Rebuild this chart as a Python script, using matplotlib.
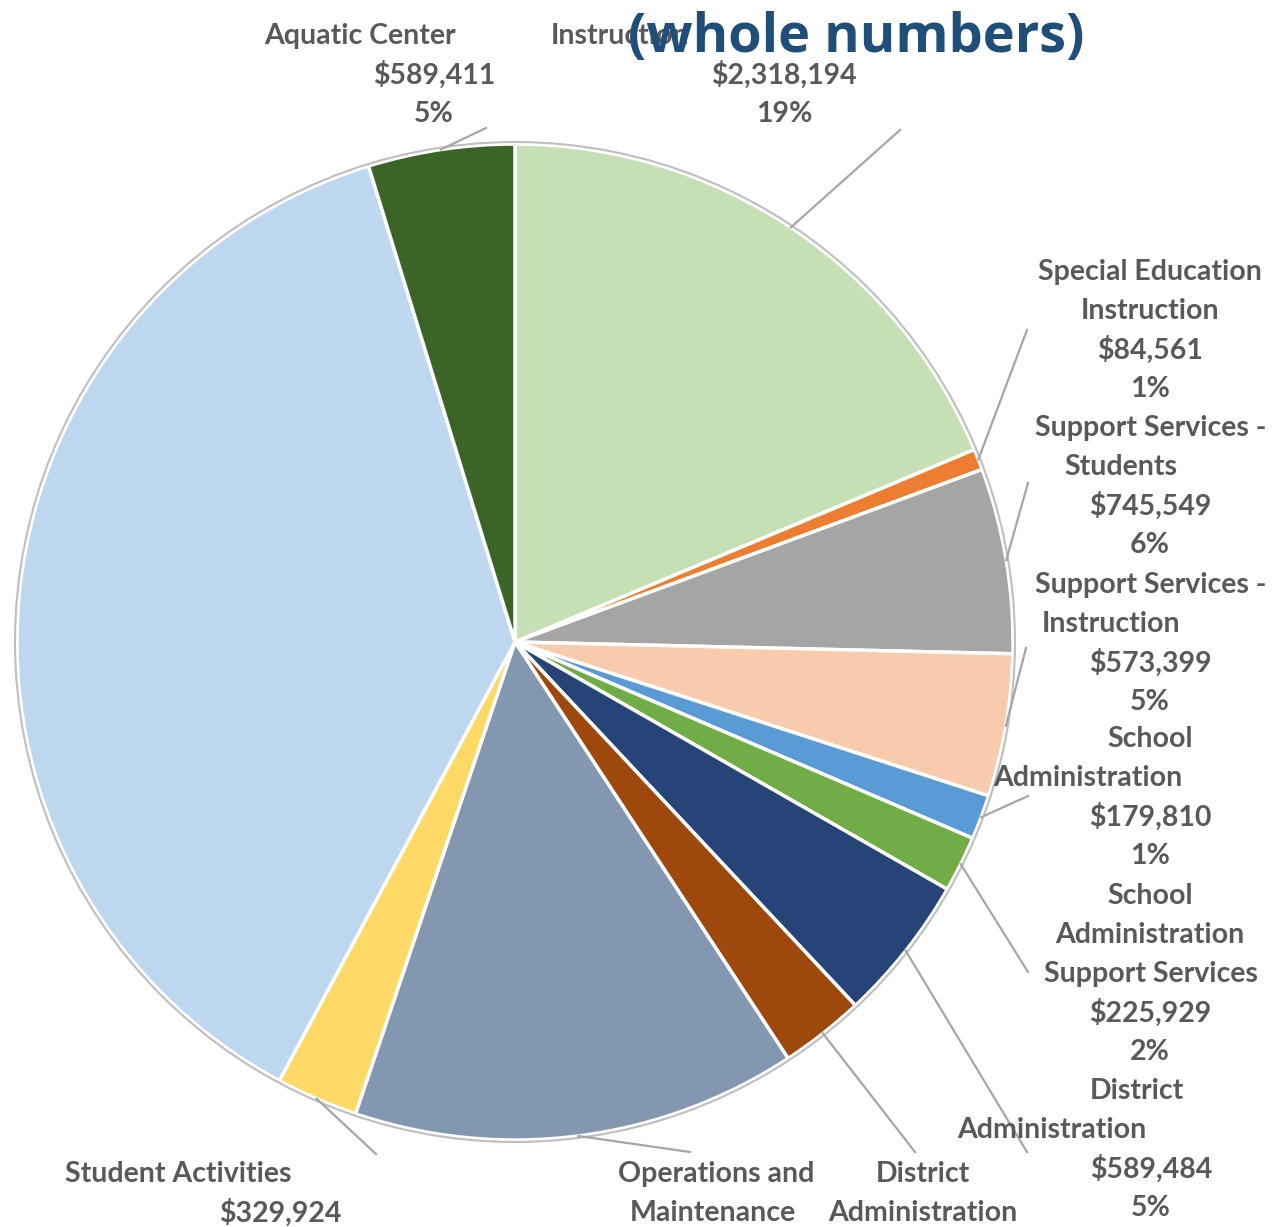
import numpy as np
import matplotlib
matplotlib.use("Agg")
import matplotlib.pyplot as plt

# ---- data (clockwise from 12 o'clock) ----
categories = ["Instruction", "Special Education Instruction", "Support Services - Students",
              "Support Services - Instruction", "School Administration",
              "School Administration Support Services", "District Administration",
              "District Administration", "Operations and Maintenance", "Student Activities",
              "Other", "Aquatic Center"]
values = [2318194, 84561, 745549, 573399, 179810, 225929, 589484,
          340000, 1790000, 329924, 4640000, 589411]
colors = ["#C5E0B4", "#ED7D31", "#A5A5A5", "#F8CBAD", "#5B9BD5", "#70AD47",
          "#264478", "#9E480E", "#8497B0", "#FFD966", "#BDD7EE", "#3B6427"]

# label name lines as they appear (split as in the picture)
name_lines = [["Instruction"], ["Special Education", "Instruction"],
              ["Support Services -", "Students"], ["Support Services -", "Instruction"],
              ["School", "Administration"], ["School", "Administration", "Support Services"],
              ["District", "Administration"], ["District", "Administration"],
              ["Operations and", "Maintenance"], ["Student Activities"], None, ["Aquatic Center"]]
title_text = "(whole numbers)"

# ---- layout (pixels in the 1273x1227 canvas) ----
W, H = 1273, 1227
CX, CY, R = 515, 642, 498
LINE = 39
# per slice: (first line y, x of each name line, x of value/pct lines, leader end)
layout = {
    0: (36, [620], 784, (900, 130)),
    1: (272, [1150, 1150], 1150, (1027, 330)),
    2: (428, [1151, 1121], 1150, (1028, 483)),
    3: (585, [1151, 1111], 1150, (1026, 648)),
    4: (739, [1150, 1088], 1150, (1028, 796)),
    5: (896, [1150, 1150, 1151], 1150, (1028, 972)),
    6: (1091, [1137, 1052], 1151, (1027, 1152)),
    7: (1174, [923, 923], 923, (915, 1152)),
    8: (1174, [716, 713], 713, (690, 1152)),
    9: (1174, [178], 280, (376, 1154)),
    11: (36, [360], 434, (486, 128)),
}


def px(x, y):
    return ((x - CX) / R, (CY - y) / R)


fig = plt.figure(figsize=(W / 100, H / 100), dpi=100)
ax = fig.add_axes([0, 0, 1, 1])
wedges, _ = ax.pie(values, colors=colors, startangle=90, counterclock=False,
                   radius=1.0, center=(0, 0),
                   wedgeprops=dict(edgecolor="white", linewidth=2.5))
ax.add_patch(plt.Circle((0, 0), 1.004, fill=False, edgecolor="#BFBFBF", linewidth=1.5, zorder=3))

x0, y0 = px(0, H)
x1, y1 = px(W, 0)
ax.set_xlim(x0, x1)
ax.set_ylim(y0, y1)
ax.set_aspect("equal")
ax.axis("off")

total = sum(values)
font = dict(family=["Lato", "DejaVu Sans"], fontweight="bold", color="#595959", fontsize=20.5)

for i, w in enumerate(wedges):
    if i not in layout:
        continue
    ytop, name_x, vx, lend = layout[i]
    lines = [(t, nx) for t, nx in zip(name_lines[i], name_x)]
    lines.append((f"${values[i]:,}", vx))
    lines.append((f"{round(values[i] / total * 100)}%", vx))
    for k, (t, lx) in enumerate(lines):
        tx, ty = px(lx, ytop + k * LINE)
        ax.text(tx, ty, t, ha="center", va="center", zorder=5, **font)
    mid = np.deg2rad((w.theta1 + w.theta2) / 2)
    sx, sy = np.cos(mid) * 1.0, np.sin(mid) * 1.0
    ex, ey = px(*lend)
    ax.plot([sx, ex], [sy, ey], color="#A6A6A6", linewidth=1.6, zorder=4)

tx, ty = px(856, 38)
ax.text(tx, ty, title_text, ha="center", va="center", fontsize=39, fontweight="bold",
        color="#1F4E79", family=["Open Sans", "DejaVu Sans"], zorder=6)

fig.savefig("out.png", dpi=100, facecolor="white")
